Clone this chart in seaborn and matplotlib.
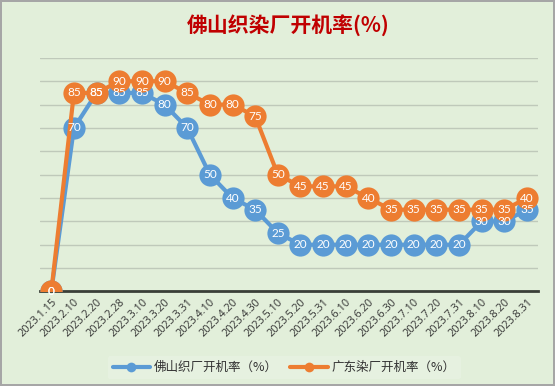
import matplotlib
matplotlib.use('Agg')
import matplotlib.pyplot as plt
import pandas as pd
import seaborn as sns

# Data
dates = ['2023.1.15', '2023.2.10', '2023.2.20', '2023.2.28', '2023.3.10', '2023.3.20',
         '2023.3.31', '2023.4.10', '2023.4.20', '2023.4.30', '2023.5.10', '2023.5.20',
         '2023.5.31', '2023.6.10', '2023.6.20', '2023.6.30', '2023.7.10', '2023.7.20',
         '2023.7.31', '2023.8.10', '2023.8.20', '2023.8.31']
foshan = [0, 70, 85, 85, 85, 80, 70, 50, 40, 35, 25, 20, 20, 20, 20, 20, 20, 20, 20, 30, 30, 35]
guangdong = [0, 85, 85, 90, 90, 90, 85, 80, 80, 75, 50, 45, 45, 45, 40, 35, 35, 35, 35, 35, 35, 40]
series_names = ['佛山织厂开机率（%）', '广东染厂开机率（%）']
title = '佛山织染厂开机率(%)'

colors = ['#5B9BD5', '#ED7D31']
bg = '#E2EFDA'

df = pd.DataFrame({
    'date': dates * 2,
    'value': foshan + guangdong,
    'series': [series_names[0]] * len(dates) + [series_names[1]] * len(dates),
})

sns.set_style('white')
plt.rcParams['font.family'] = ['Noto Sans CJK SC', 'DejaVu Sans']

fig, ax = plt.subplots(figsize=(5.55, 3.86), dpi=100)
fig.patch.set_facecolor(bg)
fig.patch.set_edgecolor('#A6A6A6')
fig.patch.set_linewidth(1.5)
ax.set_facecolor(bg)
fig.subplots_adjust(left=0.072, right=0.97, top=0.85, bottom=0.245)

sns.lineplot(data=df, x='date', y='value', hue='series', palette=colors,
             sort=False, marker='o', markersize=16, linewidth=3,
             markeredgewidth=0, ax=ax, zorder=3)

# data labels inside markers
for vals in [foshan, guangdong]:
    for i, v in enumerate(vals):
        ax.text(i, v, str(v), color='white', fontsize=8.5, ha='center',
                va='center', zorder=5, family=['Lato', 'DejaVu Sans'])

ax.set_ylim(0, 100)
ax.set_xlim(-0.5, len(dates) - 0.5)
ax.set_yticks(range(0, 101, 10))
ax.set_yticklabels([])
ax.tick_params(axis='y', length=0)
ax.grid(axis='y', color='#BFC9BA', linewidth=1)
ax.set_axisbelow(True)
for s in ['top', 'right', 'left']:
    ax.spines[s].set_visible(False)
ax.spines['bottom'].set_color('#3A3F38')
ax.spines['bottom'].set_linewidth(2)
ax.spines['bottom'].set_zorder(2)

ax.set_xticks(range(len(dates)))
ax.set_xticklabels(dates, rotation=45, ha='right', rotation_mode='anchor',
                   fontsize=7.8, color='#333333', family=['Open Sans', 'DejaVu Sans'])
ax.tick_params(axis='x', length=0, pad=4)
ax.set_xlabel('')
ax.set_ylabel('')

fig.suptitle(title, color='#C00000', fontsize=15, fontweight='bold', y=0.96, x=0.52)

leg = ax.legend(loc='upper center', bbox_to_anchor=(0.49, -0.25), ncol=2,
                frameon=True, fontsize=9, handlelength=3, columnspacing=1.0,
                handletextpad=0.3, borderpad=0.4)
leg.get_frame().set_facecolor('#E8F2E2')
leg.get_frame().set_edgecolor('none')
for h in leg.legend_handles:
    h.set_markersize(7)
    h.set_linewidth(3)
for t in leg.get_texts():
    t.set_color('#333333')

fig.savefig('out.png', dpi=100, facecolor=fig.get_facecolor(), edgecolor=fig.get_edgecolor())
